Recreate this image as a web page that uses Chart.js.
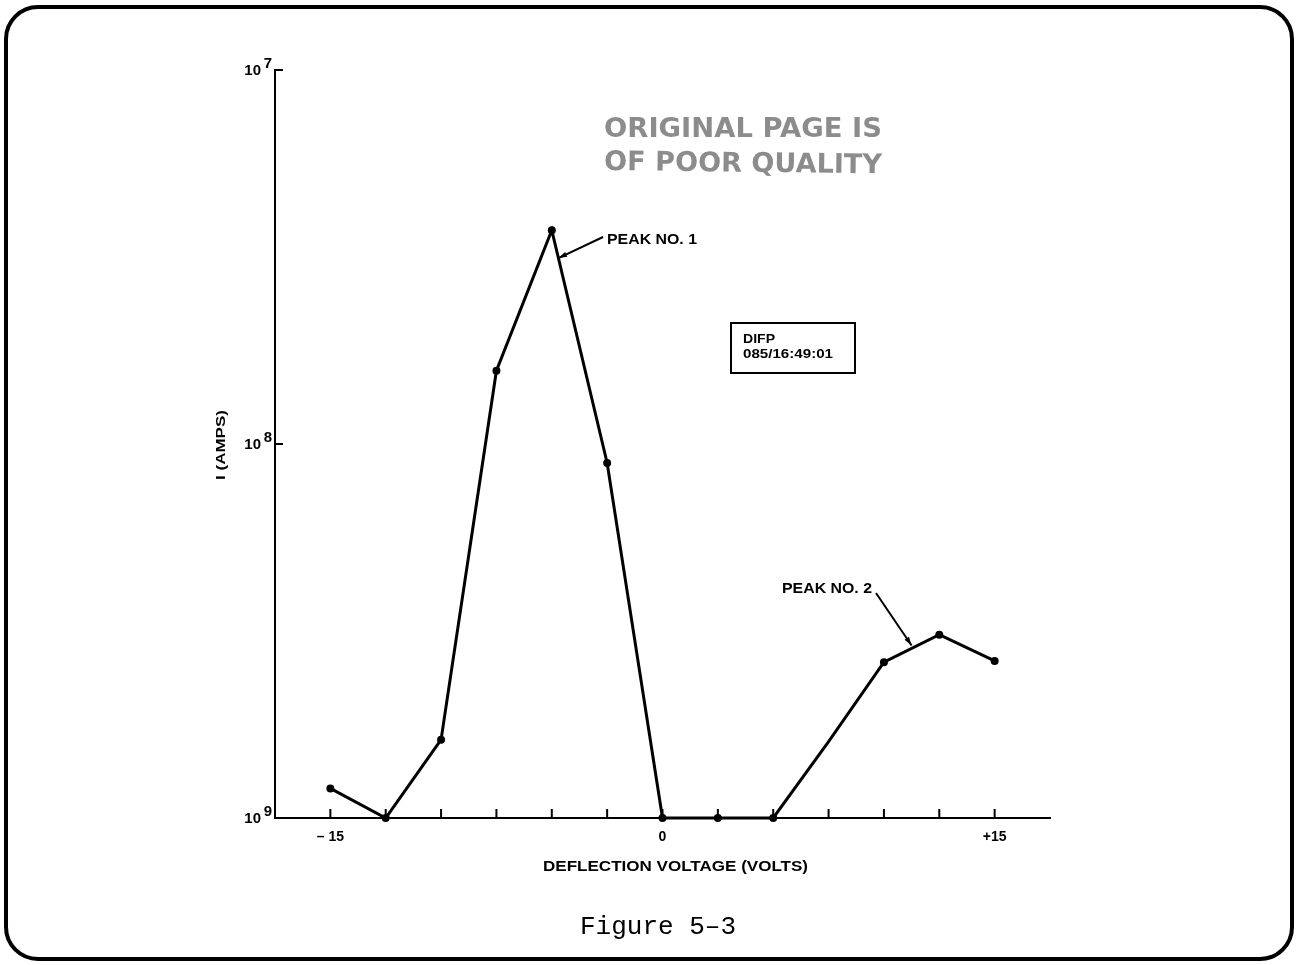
<!DOCTYPE html>
<html>
<head>
<meta charset="utf-8">
<script src="https://cdn.jsdelivr.net/npm/chart.js@4/dist/chart.umd.min.js"></script>
<style>
    html, body { margin: 0; padding: 0; background: #fff; }
    #wrap { position: relative; width: 1298px; height: 965px; }
    #frame {
        position: absolute; left: 4px; top: 5px; width: 1282px; height: 948px;
        border: 4px solid #000; border-radius: 34px;
    }
    canvas { position: absolute; left: 0; top: 0; }
</style>
</head>
<body>
<div id="wrap">
    <div id="frame"></div>
    <canvas id="chartdifp" width="1298" height="965"></canvas>
</div>
<script>
// 편향 전압 (volts)
var voltage = [-15, -12.5, -10, -7.5, -5, -2.5, 0, 2.5, 5, 7.5, 10, 12.5, 15];
// 전류 I (amps)
var current = [1.2e-9, 1.0e-9, 1.62e-9, 1.57e-8, 3.73e-8, 8.9e-9, 1.0e-9, 1.0e-9, 1.0e-9, 1.6e-9, 2.61e-9, 3.09e-9, 2.63e-9];
// 점 표시 여부 (7.5 V 는 꺾임만 있음)
var marked = [1, 1, 1, 1, 1, 1, 1, 1, 1, 0, 1, 1, 1];

var xTickLabels = { '-15': '\u2013 15', '0': '0', '15': '+15' };
var yDecades = [1e-9, 1e-8, 1e-7];
var yDecadeLabels = ['9', '8', '7'];

var BOLD = '"Liberation Sans", Arial, sans-serif';

function arrow(ctx, x1, y1, x2, y2) {
    var a = Math.atan2(y2 - y1, x2 - x1);
    ctx.beginPath();
    ctx.moveTo(x1, y1);
    ctx.lineTo(x2, y2);
    ctx.stroke();
    ctx.beginPath();
    ctx.moveTo(x2, y2);
    ctx.lineTo(x2 - 9 * Math.cos(a - 0.3), y2 - 9 * Math.sin(a - 0.3));
    ctx.lineTo(x2 - 9 * Math.cos(a + 0.3), y2 - 9 * Math.sin(a + 0.3));
    ctx.closePath();
    ctx.fill();
}

// 폭을 맞춰서 글자 쓰기 (왼쪽 기준)
function textW(ctx, text, x, y, width) {
    var w = ctx.measureText(text).width;
    ctx.save();
    ctx.translate(x, y);
    ctx.scale(width / w, 1);
    ctx.textAlign = 'left';
    ctx.fillText(text, 0, 0);
    ctx.restore();
}

// 선분 위 한 점 (로그 축에서 픽셀로 보간)
function onSegment(chart, i, t) {
    var xs = chart.scales.x, ys = chart.scales.y;
    var x1 = xs.getPixelForValue(voltage[i]), y1 = ys.getPixelForValue(current[i]);
    var x2 = xs.getPixelForValue(voltage[i + 1]), y2 = ys.getPixelForValue(current[i + 1]);
    return { x: x1 + (x2 - x1) * t, y: y1 + (y2 - y1) * t };
}

var decorPlugin = {
    id: 'decor',
    afterDraw: function (chart) {
        var ctx = chart.ctx;
        var xs = chart.scales.x, ys = chart.scales.y;
        var area = chart.chartArea;
        ctx.save();
        ctx.strokeStyle = '#000';
        ctx.fillStyle = '#000';

        // 안쪽 눈금 - x
        ctx.lineWidth = 2;
        for (var v = -15; v <= 15; v += 2.5) {
            var px = xs.getPixelForValue(v);
            ctx.beginPath();
            ctx.moveTo(px, area.bottom);
            ctx.lineTo(px, area.bottom - 9);
            ctx.stroke();
        }
        // 눈금 - y
        for (var k = 1; k < yDecades.length; k++) {
            var py = ys.getPixelForValue(yDecades[k]);
            ctx.beginPath();
            ctx.moveTo(area.left, py);
            ctx.lineTo(area.left + 8, py);
            ctx.stroke();
        }

        // y 라벨 10 + 위첨자
        ctx.textBaseline = 'alphabetic';
        for (var k = 0; k < yDecades.length; k++) {
            var py = ys.getPixelForValue(yDecades[k]);
            ctx.textAlign = 'right';
            ctx.font = 'bold 15px ' + BOLD;
            ctx.fillText(yDecadeLabels[k], area.left - 3, py - 2);
            ctx.font = 'bold 15px ' + BOLD;
            ctx.fillText('10', area.left - 14, py + 5);
        }

        // y 축 제목
        ctx.save();
        ctx.translate(221, ys.getPixelForValue(1e-8) + 36);
        ctx.rotate(-Math.PI / 2);
        ctx.textBaseline = 'middle';
        ctx.font = 'bold 13px ' + BOLD;
        textW(ctx, 'I (AMPS)', 0, 0, 70);
        ctx.restore();

        // x 축 제목
        ctx.textBaseline = 'middle';
        ctx.font = 'bold 14px ' + BOLD;
        textW(ctx, 'DEFLECTION VOLTAGE (VOLTS)', 543, 867, 265);

        // 피크 표시
        ctx.lineWidth = 2;
        ctx.font = 'bold 14px ' + BOLD;
        textW(ctx, 'PEAK NO. 1', 607, 240, 90);
        var p1 = onSegment(chart, 4, 0.12);
        arrow(ctx, 603, 237, p1.x, p1.y);

        textW(ctx, 'PEAK NO. 2', 782, 589, 90);
        var p2 = onSegment(chart, 10, 0.5);
        arrow(ctx, 876, 593, p2.x, p2.y - 3);

        // DIFP 상자
        ctx.lineWidth = 2;
        ctx.strokeRect(731, 323, 124, 50);
        ctx.font = 'bold 13px ' + BOLD;
        textW(ctx, 'DIFP', 743, 339, 32);
        textW(ctx, '085/16:49:01', 743, 354, 90);

        // 스탬프
        ctx.fillStyle = '#8c8c8c';
        ctx.font = 'bold 27px "DejaVu Sans", sans-serif';
        ctx.textBaseline = 'alphabetic';
        textW(ctx, 'ORIGINAL PAGE IS', 604, 137, 278);
        ctx.save();
        ctx.translate(604, 170);
        ctx.rotate(0.012);
        textW(ctx, 'OF POOR QUALITY', 0, 0, 278);
        ctx.restore();

        // 그림 번호
        ctx.fillStyle = '#000';
        ctx.textAlign = 'center';
        ctx.font = '26px "Liberation Mono", "DejaVu Sans Mono", monospace';
        ctx.fillText('Figure 5\u20133', 658, 934);

        ctx.restore();
    }
};

var chartArea = document.getElementById('chartdifp').getContext('2d');

var chartdifp = new Chart(chartArea, {
    type: 'line',
    data: {
        labels: voltage,
        datasets: [{
            data: voltage.map(function (v, i) { return { x: v, y: current[i] }; }),
            borderColor: '#000',
            backgroundColor: '#000',
            borderWidth: 3,
            pointRadius: marked.map(function (m) { return m ? 4 : 0; }),
            pointBackgroundColor: '#000',
            pointBorderWidth: 0,
            tension: 0,
            clip: false
        }]
    },
    options: {
        responsive: false,
        animation: false,
        events: [],
        layout: { padding: { left: 275, right: 248, top: 70, bottom: 117 } },
        plugins: {
            legend: { display: false },
            tooltip: { enabled: false }
        },
        scales: {
            x: {
                type: 'linear',
                min: -17.5,
                max: 17.5,
                afterFit: function (s) { s.height = 30; },
                afterBuildTicks: function (s) {
                    s.ticks = [-15, 0, 15].map(function (v) { return { value: v }; });
                },
                grid: { display: false },
                border: { display: true, color: '#000', width: 2 },
                ticks: {
                    color: '#000',
                    padding: 3,
                    maxRotation: 0,
                    font: { family: BOLD, size: 14, weight: 'bold' },
                    callback: function (v) { return xTickLabels[String(v)] || ''; }
                }
            },
            y: {
                type: 'logarithmic',
                min: 1e-9,
                max: 1e-7,
                afterFit: function (s) { s.width = 0; },
                grid: { display: false },
                border: { display: true, color: '#000', width: 2 },
                ticks: { display: false }
            }
        }
    },
    plugins: [decorPlugin]
});
</script>
</body>
</html>
